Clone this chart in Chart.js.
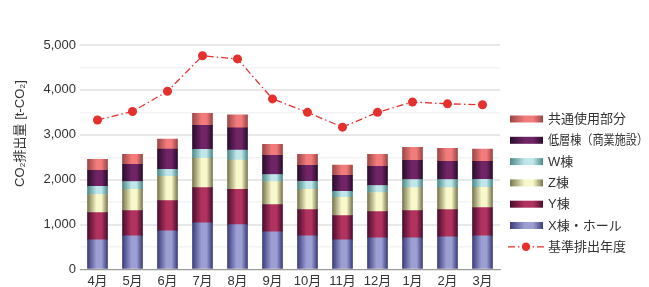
<!DOCTYPE html>
<html>
<head>
<meta charset="utf-8">
<script src="https://cdn.jsdelivr.net/npm/chart.js@4/dist/chart.umd.min.js"></script>
<style>
html,body{margin:0;padding:0;background:#fff;}
canvas{display:block;}
</style>
</head>
<body>
<canvas id="c" width="649" height="287" style="width:649px;height:287px"></canvas>
<script>
const months = ['4月','5月','6月','7月','8月','9月','10月','11月','12月','1月','2月','3月'];
const xHall   = [660, 750, 860, 1040, 1000, 840, 750, 660, 705, 705, 730, 750];
const yBldg   = [605, 560, 675, 785, 785, 605, 585, 540, 585, 605, 605, 630];
const zBldg   = [405, 475, 540, 650, 650, 515, 450, 405, 425, 515, 490, 450];
const wBldg   = [180, 175, 155, 200, 225, 155, 180, 135, 155, 180, 180, 180];
const lowRise = [360, 380, 450, 535, 495, 425, 355, 360, 425, 425, 405, 400];
const common  = [245, 225, 225, 270, 290, 245, 245, 225, 270, 290, 290, 270];
const baseline = [3330, 3520, 3970, 4760, 4690, 3800, 3500, 3170, 3500, 3730, 3690, 3670];
const yTicksLabelStep = 1000;

const FONT = "'Liberation Sans', 'Noto Sans CJK JP', sans-serif";
const TEXT = '#333333';
const BAR_W = 20;

// [edge, center]
const pal = {
  x: ['#3c3d7c', '#9c9fd2'],
  y: ['#4a0e2e', '#b2325f'],
  z: ['#79774f', '#f9f8cb'],
  w: ['#4e8a8a', '#bfe7ea'],
  low: ['#2a0d2c', '#702466'],
  common: ['#9c4646', '#f27b7b']
};
const RED = '#e5302e';

function grad(c, x0, w, cols) {
  const g = c.createLinearGradient(x0, 0, x0 + w, 0);
  g.addColorStop(0, cols[0]);
  g.addColorStop(0.45, cols[1]);
  g.addColorStop(0.7, cols[1]);
  g.addColorStop(1, cols[0]);
  return g;
}
function barFill(cols) {
  return function(ctx) {
    const chart = ctx.chart;
    const xs = chart.scales && chart.scales.x;
    if (!xs || ctx.type !== 'data') return cols[1];
    const cx = xs.getPixelForValue(ctx.dataIndex);
    if (!isFinite(cx)) return cols[1];
    return grad(chart.ctx, cx - BAR_W / 2, BAR_W, cols);
  };
}
function barSet(label, data, cols) {
  return { type: 'bar', label, data, backgroundColor: barFill(cols), borderWidth: 0,
           stack: 'co2', order: 1, _cols: cols, barThickness: BAR_W };
}

const datasets = [
  barSet('X棟・ホール', xHall, pal.x),
  barSet('Y棟', yBldg, pal.y),
  barSet('Z棟', zBldg, pal.z),
  barSet('W棟', wBldg, pal.w),
  barSet('低層棟（商業施設）', lowRise, pal.low),
  barSet('共通使用部分', common, pal.common),
  { type: 'line', label: '基準排出年度', data: baseline, stack: 'base', order: 0,
    borderColor: RED, borderWidth: 1.3, borderDash: [7, 3, 1.5, 3],
    pointRadius: 4.5, pointBackgroundColor: RED, pointBorderWidth: 0, fill: false, tension: 0 }
];

const legendOrder = [5, 4, 3, 2, 1, 0, 6];

const extras = {
  id: 'extras',
  afterDraw(chart) {
    const c = chart.ctx;
    c.save();
    c.font = '13px ' + FONT;
    c.fillStyle = TEXT;
    c.textAlign = 'center';
    c.textBaseline = 'middle';
    c.translate(20, 133.5);
    c.rotate(-Math.PI / 2);
    c.fillText('CO₂排出量 [t-CO₂]', 0, 0);
    c.restore();

    c.save();
    c.font = '13px ' + FONT;
    c.textAlign = 'left';
    c.textBaseline = 'middle';
    const x0 = 510, sw = 33, y0 = 119, step = 21.3;
    const tx = x0 + 38;
    legendOrder.forEach((di, k) => {
      const ds = chart.data.datasets[di];
      const yc = y0 + k * step;
      if (ds.type === 'bar') {
        c.fillStyle = grad(c, x0, sw, ds._cols);
        c.fillRect(x0, yc - 3.5, sw, 7);
      } else {
        c.strokeStyle = RED;
        c.lineWidth = 1.3;
        c.setLineDash([7, 3, 1.5, 3]);
        c.beginPath();
        c.moveTo(x0 - 2, yc);
        c.lineTo(x0 + sw + 2, yc);
        c.stroke();
        c.setLineDash([]);
        c.fillStyle = RED;
        c.beginPath();
        c.arc(x0 + 16, yc, 4.2, 0, Math.PI * 2);
        c.fill();
      }
      c.fillStyle = TEXT;
      c.fillText(ds.label, tx, yc + 0.5, chart.width - tx - 1);
    });
    c.restore();
  }
};

new Chart(document.getElementById('c'), {
  data: { labels: months, datasets },
  options: {
    responsive: false,
    devicePixelRatio: 1,
    animation: false,
    layout: { padding: { top: 45, right: 149, left: 0, bottom: 0 } },
    plugins: { legend: { display: false }, tooltip: { enabled: false } },
    scales: {
      x: {
        stacked: true,
        offset: true,
        grid: { display: false, drawTicks: false },
        border: { display: true, color: '#9a9a9a', width: 1 },
        ticks: { color: TEXT, font: { family: FONT, size: 13 }, padding: 4, maxRotation: 0, autoSkip: false },
        afterFit(axis) { axis.height = 17.5; }
      },
      y: {
        stacked: true,
        min: 0, max: 5000,
        ticks: {
          stepSize: 500,
          color: TEXT,
          font: { family: FONT, size: 13 },
          padding: 4,
          callback: v => (v % yTicksLabelStep === 0 ? v.toLocaleString('en-US') : '')
        },
        grid: {
          drawTicks: false,
          color: ctx => (ctx.tick && ctx.tick.value % 1000 === 0 ? '#e8e8e8' : '#f4f4f4'),
          lineWidth: ctx => (ctx.tick && ctx.tick.value % 1000 === 0 ? 2 : 1.5)
        },
        border: { display: false },
        afterFit(axis) { axis.width = 80; }
      }
    }
  },
  plugins: [extras]
});
</script>
</body>
</html>
